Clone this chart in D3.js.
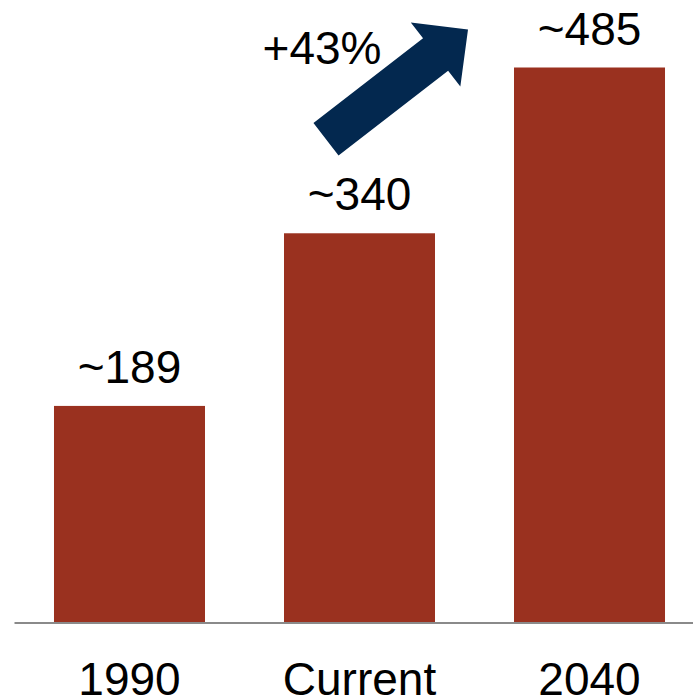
<!DOCTYPE html>
<html>
<head>
<meta charset="utf-8">
<script src="https://cdn.jsdelivr.net/npm/d3@7"></script>
<style>
  html, body { margin: 0; padding: 0; background: #fff; }
  svg { display: block; }
  text { font-family: Arial, "Liberation Sans", sans-serif; fill: #000; }
</style>
</head>
<body>
<div id="chart"></div>
<script>
const categories = ['1990', 'Current', '2040'];
const values = [189, 340, 485];
const valueLabels = ['~189', '~340', '~485'];
const growthLabel = '+43%';

const width = 693, height = 699;
const baseY = 622;

const svg = d3.select('#chart').append('svg')
  .attr('width', width)
  .attr('height', height);

const x = d3.scaleBand()
  .domain(categories)
  .range([14.5, 704.5])
  .paddingInner(0.3435)
  .paddingOuter(0.1717);

const y = d3.scaleLinear()
  .domain([0, 485])
  .range([baseY, 67.5]);

// bars
svg.append('g').selectAll('rect')
  .data(values)
  .join('rect')
  .attr('x', (d, i) => x(categories[i]))
  .attr('y', d => y(d))
  .attr('width', x.bandwidth())
  .attr('height', d => y(0) - y(d))
  .attr('fill', '#9a311f');

// baseline
svg.append('line')
  .attr('x1', 14.5).attr('x2', width)
  .attr('y1', baseY + 1).attr('y2', baseY + 1)
  .attr('stroke', '#8a8a8a')
  .attr('stroke-width', 2);

// value labels
svg.append('g').selectAll('text')
  .data(values)
  .join('text')
  .attr('x', (d, i) => x(categories[i]) + x.bandwidth() / 2)
  .attr('y', d => y(d) - 23)
  .attr('text-anchor', 'middle')
  .attr('font-size', 46)
  .text((d, i) => valueLabels[i]);

// category labels
svg.append('g').selectAll('text')
  .data(categories)
  .join('text')
  .attr('x', d => x(d) + x.bandwidth() / 2)
  .attr('y', 695)
  .attr('text-anchor', 'middle')
  .attr('font-size', 46)
  .text(d => d);

// growth arrow, anchored between Current and 2040 bars
const tail = [x('Current') + 42, y(340) - 94];
const tip = [x('2040') - 46, y(485) - 38];
const dx = tip[0] - tail[0], dy = tip[1] - tail[1];
const len = Math.hypot(dx, dy);
const angle = Math.atan2(dy, dx) * 180 / Math.PI;
const shaftW = 41, headW = 81, headL = 41;
const arrowPts = [
  [0, -shaftW / 2], [len - headL, -shaftW / 2], [len - headL, -headW / 2],
  [len, 0],
  [len - headL, headW / 2], [len - headL, shaftW / 2], [0, shaftW / 2]
];
svg.append('polygon')
  .attr('points', arrowPts.map(p => p.join(',')).join(' '))
  .attr('transform', `translate(${tail[0]},${tail[1]}) rotate(${angle})`)
  .attr('fill', '#03284f');

svg.append('text')
  .attr('x', 322)
  .attr('y', 64)
  .attr('text-anchor', 'middle')
  .attr('font-size', 46)
  .text(growthLabel);
</script>
</body>
</html>
